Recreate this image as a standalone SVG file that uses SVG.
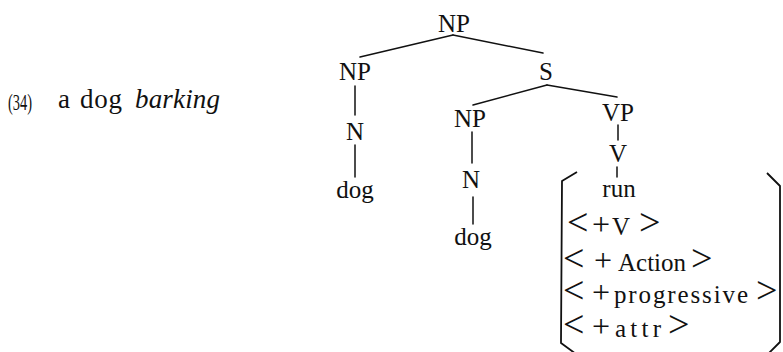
<svg xmlns="http://www.w3.org/2000/svg" width="783" height="352" viewBox="0 0 783 352">
  <style>
    text { font-family: "Liberation Serif", "Times New Roman", serif; fill: #111; }
    .lbl { font-size: 25px; text-anchor: middle; }
    .ex { font-size: 27px; }
    .feat { font-size: 25px; }
    .ang { font-size: 38px; }
    .pl { font-size: 32px; }
    .edge { stroke: #111; stroke-width: 1.5; fill: none; stroke-linecap: round; }
    .brk { stroke: #111; stroke-width: 1.8; fill: none; stroke-linejoin: round; }
  </style>

  <!-- example heading -->
  <g id="example">
    <text x="8" y="110" font-size="24" textLength="24" lengthAdjust="spacingAndGlyphs">(34)</text>
    <text class="ex" x="58" y="108">a</text>
    <text class="ex" x="80" y="108" textLength="42">dog</text>
    <text class="ex" x="135" y="108" font-style="italic" textLength="85">barking</text>
  </g>

  <!-- tree edges -->
  <g id="connectors">
    <line class="edge" x1="453" y1="35" x2="360" y2="57"/>
    <line class="edge" x1="453" y1="35" x2="543" y2="53"/>
    <line class="edge" x1="355" y1="86" x2="355" y2="115"/>
    <line class="edge" x1="355" y1="145" x2="355" y2="177"/>
    <line class="edge" x1="547" y1="85" x2="473" y2="105"/>
    <line class="edge" x1="547" y1="85" x2="617" y2="97"/>
    <line class="edge" x1="472" y1="132" x2="472" y2="163"/>
    <line class="edge" x1="473" y1="197" x2="473" y2="224"/>
    <line class="edge" x1="618" y1="125" x2="618" y2="140"/>
    <line class="edge" x1="617" y1="167" x2="617" y2="177"/>
  </g>

  <!-- tree nodes -->
  <g id="np-root"><text class="lbl" x="454" y="32">NP</text></g>
  <g id="np-left"><text class="lbl" x="355" y="80">NP</text></g>
  <g id="n-left"><text class="lbl" x="355" y="140">N</text></g>
  <g id="dog-left"><text class="lbl" x="355" y="198">dog</text></g>
  <g id="s"><text class="lbl" x="546" y="80">S</text></g>
  <g id="np-mid"><text class="lbl" x="470" y="127">NP</text></g>
  <g id="n-mid"><text class="lbl" x="471" y="188">N</text></g>
  <g id="dog-mid"><text class="lbl" x="473" y="245">dog</text></g>
  <g id="vp"><text class="lbl" x="618" y="121">VP</text></g>
  <g id="v"><text class="lbl" x="618" y="162">V</text></g>

  <!-- feature matrix of the verb -->
  <g id="features">
    <path class="brk" d="M 577 172 L 562 181 L 561 343 L 576 354"/>
    <path class="brk" d="M 767 173 L 780 186 L 780 342 L 768 354" stroke-width="2.2"/>
    <text class="lbl" x="619" y="197">run</text>
    <text class="feat" y="235"><tspan class="ang" x="567">&lt;</tspan><tspan class="pl" x="592">+</tspan><tspan x="612">V</tspan><tspan class="ang" x="639">&gt;</tspan></text>
    <text class="feat" y="271"><tspan class="ang" x="563">&lt;</tspan><tspan class="pl" x="594">+</tspan><tspan x="618">Action</tspan><tspan class="ang" x="691">&gt;</tspan></text>
    <text class="feat" y="303"><tspan class="ang" x="563">&lt;</tspan><tspan class="pl" x="592">+</tspan><tspan x="614" textLength="134">progressive</tspan><tspan class="ang" x="756">&gt;</tspan></text>
    <text class="feat" y="337"><tspan class="ang" x="563">&lt;</tspan><tspan class="pl" x="592">+</tspan><tspan x="615" textLength="46">attr</tspan><tspan class="ang" x="668">&gt;</tspan></text>
  </g>
</svg>
